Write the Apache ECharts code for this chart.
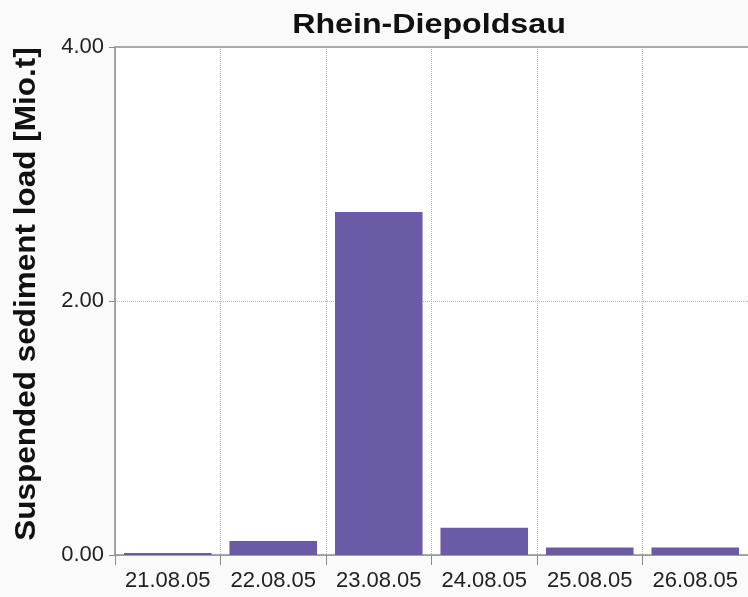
<!DOCTYPE html>
<html>
<head>
<meta charset="utf-8">
<script src="https://cdn.jsdelivr.net/npm/echarts@6/dist/echarts.min.js"></script>
<style>
  html, body { margin: 0; padding: 0; background: #fafafa; }
  #chart { width: 748px; height: 597px; }
</style>
</head>
<body>
<div id="chart"></div>
<script>
// Daily suspended sediment load, Rhine at Diepoldsau, August 2005 flood
const chartTitle = 'Rhein-Diepoldsau';
const yAxisTitle = 'Suspended sediment load [Mio.t]';
const days = ['21.08.05', '22.08.05', '23.08.05', '24.08.05', '25.08.05', '26.08.05'];
const loadMioT = [0.015, 0.11, 2.70, 0.215, 0.06, 0.06];
const yMin = 0;
const yMax = 4;
const yStep = 2;

const chart = echarts.init(document.getElementById('chart'), null, { renderer: 'canvas' });

const fontFamily = '"Liberation Sans", Arial, Helvetica, sans-serif';

chart.setOption({
  backgroundColor: '#fafafa',
  animation: false,
  grid: {
    left: 115, right: -5, top: 47, bottom: 42,
    show: true, backgroundColor: '#ffffff', borderWidth: 0
  },
  // titles use slightly widened bold lettering
  graphic: [
    {
      type: 'text',
      x: 429, y: 25,
      scaleX: 1.15,
      style: {
        text: chartTitle,
        font: 'bold 28px ' + fontFamily,
        fill: '#111',
        textAlign: 'center',
        textVerticalAlign: 'middle'
      }
    },
    {
      type: 'text',
      x: 27, y: 294,
      rotation: Math.PI / 2,
      scaleX: 1.05,
      style: {
        text: yAxisTitle,
        font: 'bold 30px ' + fontFamily,
        fill: '#111',
        textAlign: 'center',
        textVerticalAlign: 'middle'
      }
    }
  ],
  xAxis: [
    {
      type: 'category',
      data: days,
      position: 'bottom',
      axisLine: { lineStyle: { color: '#8c8c8c', width: 1.5 } },
      axisTick: { show: true, interval: 0, length: 10, lineStyle: { color: '#8c8c8c' } },
      axisLabel: { interval: 0, fontFamily, fontSize: 22, color: '#222', margin: 15 },
      splitLine: { show: true, interval: 0, lineStyle: { color: '#b8b8b8', type: 'dotted', width: 1 } }
    },
    {
      // top frame line of the plot area
      type: 'category',
      data: days,
      position: 'top',
      axisLine: { show: true, lineStyle: { color: '#aaaaaa', width: 2 } },
      axisTick: { show: false },
      axisLabel: { show: false },
      splitLine: { show: false }
    }
  ],
  yAxis: {
    type: 'value',
    min: yMin,
    max: yMax,
    interval: yStep,
    axisLine: { show: true, lineStyle: { color: '#8c8c8c', width: 1.5 } },
    axisTick: { show: true, length: 6, lineStyle: { color: '#8c8c8c' } },
    axisLabel: {
      fontFamily, fontSize: 22, color: '#222', margin: 11,
      formatter: v => v.toFixed(2)
    },
    splitLine: { show: true, lineStyle: { color: '#b8b8b8', type: 'dotted', width: 1 } }
  },
  series: [{
    type: 'bar',
    data: loadMioT,
    xAxisIndex: 0,
    barCategoryGap: '17%',
    itemStyle: { color: '#6b5aa6' }
  }]
});
</script>
</body>
</html>
